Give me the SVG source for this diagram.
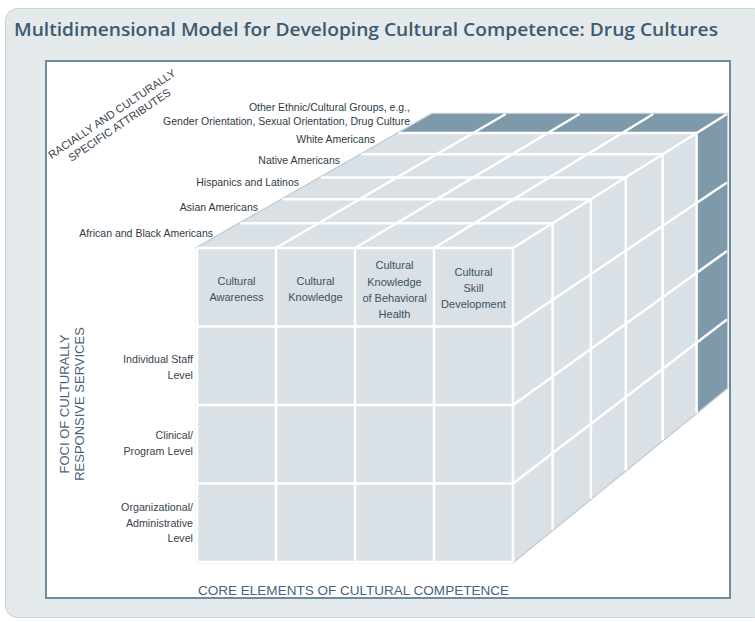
<svg xmlns="http://www.w3.org/2000/svg" width="755" height="622" viewBox="0 0 755 622">
  <style>
    .lbl { font-family: "Liberation Sans", Arial, sans-serif; fill: #2f3a43; }
    .depth { font-size: 10.5px; text-anchor: end; }
    .elem { font-size: 11px; text-anchor: middle; fill: #3a5264; }
    .level { font-size: 10.7px; text-anchor: end; fill: #37434d; }
    .axis { font-size: 13px; text-anchor: middle; fill: #48637a; }
    .axis-sm { font-size: 11px; text-anchor: middle; fill: #37434d; }
    .face { fill: #d9e0e6; }
    .dark { fill: #7d99aa; }
    .grid { fill: none; stroke: #ffffff; stroke-width: 2.5; stroke-linejoin: round; }
  </style>

  <!-- background panel -->
  <g id="panel">
    <rect x="5.5" y="8.5" width="760" height="609" rx="12" ry="12" fill="#e4e9ec" stroke="#cbd3d8" stroke-width="1"/>
    <rect x="46" y="61" width="684" height="537" fill="#ffffff" stroke="#6d8c9f" stroke-width="2"/>
  </g>

  <g id="title">
    <text x="14" y="36" textLength="704" lengthAdjust="spacingAndGlyphs" style="font-family:'Open Sans','Liberation Sans',sans-serif;font-weight:600;font-size:17.5px;fill:#3d5a6e">Multidimensional Model for Developing Cultural Competence: Drug Cultures</text>
  </g>

  <!-- the cube: front = core elements x foci, depth = cultural groups -->
  <g id="cube">
    <path d="M197,248 L432,114 L727,114 L727,388 L513,562 L197,562 Z" fill="none" stroke="#c4ccd2" stroke-width="2.6"/>
    <g id="front-face">
      <rect class="face" x="197" y="248" width="316" height="314"/>
    </g>
    <g id="top-face">
      <polygon class="face" points="197,248 513,248 727,114 432,114"/>
      <polygon class="dark" points="398.63,133.03 696.61,133.03 727,114 432,114"/>
    </g>
    <g id="right-face">
      <polygon class="face" points="513,248 727,114 727,388 513,562"/>
      <polygon class="dark" points="696.61,133.03 727,114 727,388 696.61,412.71"/>
    </g>
    <g id="grid-lines" class="grid">
      <!-- rows: front horizontals continuing across the right face -->
      <polyline points="197,326.5 513,326.5 727,182.5"/>
      <polyline points="197,405 513,405 727,251"/>
      <polyline points="197,483.5 513,483.5 727,319.5"/>
      <!-- columns: front verticals continuing over the top face -->
      <polyline points="276,562 276,248 505.75,114"/>
      <polyline points="355,562 355,248 579.5,114"/>
      <polyline points="434,562 434,248 653.25,114"/>
      <!-- depth layers: across the top, down the right face -->
      <polyline points="240.48,223.21 552.59,223.21 552.59,529.81"/>
      <polyline points="282.54,199.22 590.9,199.22 590.9,498.66"/>
      <polyline points="320.85,177.38 625.78,177.38 625.78,470.3"/>
      <polyline points="361.27,154.33 662.59,154.33 662.59,440.37"/>
      <polyline points="398.63,133.03 696.61,133.03 696.61,412.71"/>
      <!-- cube edges -->
      <polyline points="197,248 513,248 727,114"/>
      <polyline points="513,248 513,562"/>
      <polyline points="197,248 197,562 513,562"/>
    </g>
  </g>

  <g id="depth-labels" class="lbl depth">
    <text x="213" y="237">African and Black Americans</text>
    <text x="258" y="211">Asian Americans</text>
    <text x="299" y="186">Hispanics and Latinos</text>
    <text x="340" y="164">Native Americans</text>
    <text x="375" y="143">White Americans</text>
    <text x="410" y="111">Other Ethnic/Cultural Groups, e.g.,</text>
    <text x="410" y="125">Gender Orientation, Sexual Orientation, Drug Culture</text>
  </g>

  <g id="element-labels" class="lbl elem">
    <text x="236.5" y="285">Cultural</text>
    <text x="236.5" y="301">Awareness</text>
    <text x="315.5" y="285">Cultural</text>
    <text x="315.5" y="301">Knowledge</text>
    <text x="394.5" y="269">Cultural</text>
    <text x="394.5" y="285.5">Knowledge</text>
    <text x="394.5" y="302">of Behavioral</text>
    <text x="394.5" y="317.5">Health</text>
    <text x="473.5" y="275.5">Cultural</text>
    <text x="473.5" y="291.5">Skill</text>
    <text x="473.5" y="307.5">Development</text>
  </g>

  <g id="level-labels" class="lbl level">
    <text x="193" y="363">Individual Staff</text>
    <text x="193" y="379">Level</text>
    <text x="193" y="439">Clinical/</text>
    <text x="193" y="455">Program Level</text>
    <text x="193" y="511">Organizational/</text>
    <text x="193" y="527">Administrative</text>
    <text x="193" y="542">Level</text>
  </g>

  <g id="axis-labels" class="lbl">
    <g transform="translate(114,117) rotate(-34)">
      <text class="axis-sm" x="0" y="0">RACIALLY AND CULTURALLY</text>
      <text class="axis-sm" x="0" y="13.5">SPECIFIC ATTRIBUTES</text>
    </g>
    <g transform="translate(68.5,404) rotate(-90)">
      <text class="axis" x="0" y="0">FOCI OF CULTURALLY</text>
      <text class="axis" x="0" y="15">RESPONSIVE SERVICES</text>
    </g>
    <text class="axis" x="353.5" y="595" textLength="311" lengthAdjust="spacingAndGlyphs">CORE ELEMENTS OF CULTURAL COMPETENCE</text>
  </g>
</svg>
